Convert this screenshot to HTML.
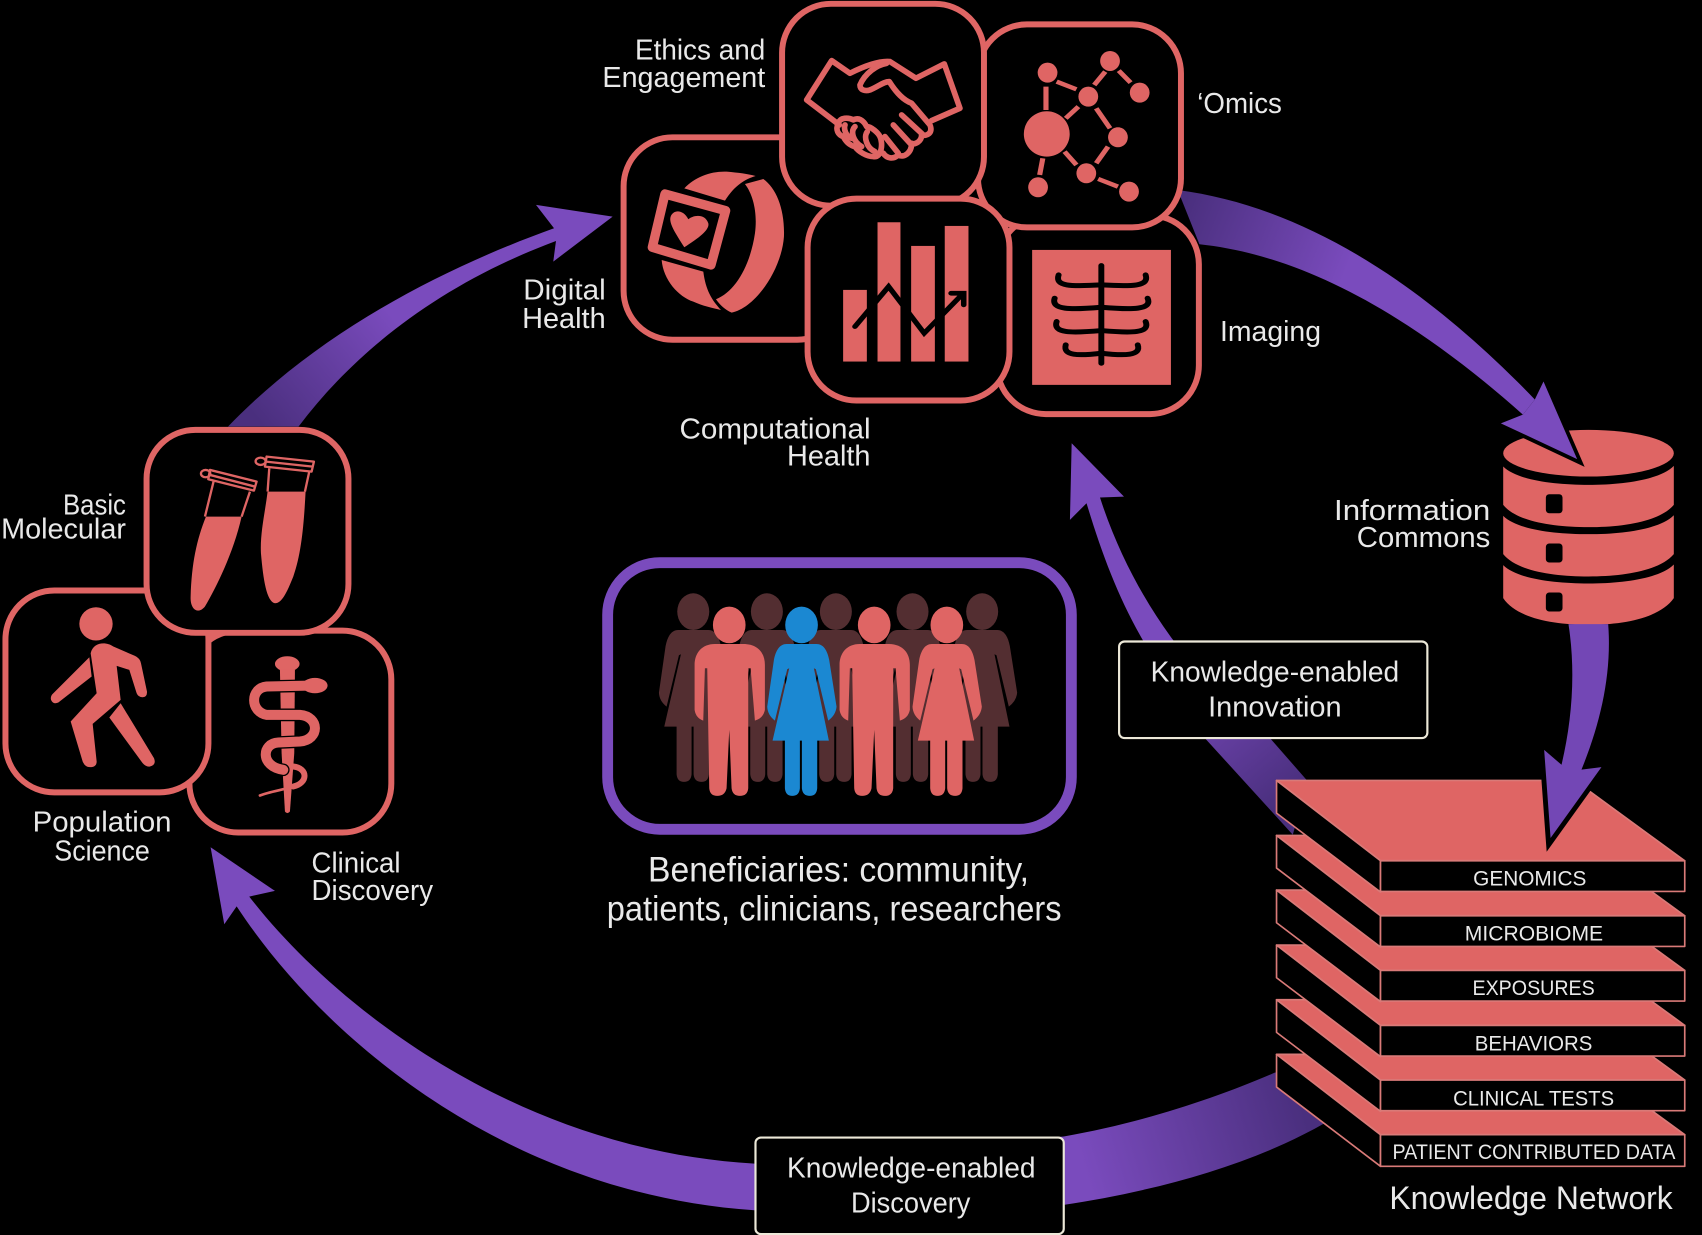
<!DOCTYPE html>
<html><head><meta charset="utf-8"><style>
html,body{margin:0;padding:0;background:#000;width:1702px;height:1235px;overflow:hidden}
svg{display:block}
text{font-family:"Liberation Sans",sans-serif;fill:#e9e9e9}
.l{font-size:26px}
.c{fill:#df6564}
.box{fill:#000;stroke:#df6564;stroke-width:5.5}
</style></head><body>
<svg xmlns="http://www.w3.org/2000/svg" width="1702" height="1235" viewBox="0 0 1568 1137.8">
<defs>
<linearGradient id="g1" gradientUnits="userSpaceOnUse" x1="1090" y1="190" x2="1240" y2="250"><stop offset="0" stop-color="#4a2f7e"/><stop offset="1" stop-color="#7a4bbd"/></linearGradient>
<linearGradient id="g3" gradientUnits="userSpaceOnUse" x1="1200" y1="1020" x2="1000" y2="1080"><stop offset="0" stop-color="#4a2f7e"/><stop offset="1" stop-color="#7a4bbd"/></linearGradient>
<linearGradient id="g4" gradientUnits="userSpaceOnUse" x1="1180" y1="740" x2="1080" y2="620"><stop offset="0" stop-color="#4a2f7e"/><stop offset="1" stop-color="#7a4bbd"/></linearGradient>
<linearGradient id="g5" gradientUnits="userSpaceOnUse" x1="240" y1="390" x2="360" y2="290"><stop offset="0" stop-color="#4a2f7e"/><stop offset="1" stop-color="#7a4bbd"/></linearGradient>
<path id="woman" d="M590 282L680 282C700 282 712 300 718 330L740 470Q738 495 715 512L678 358 672 355 717 572 682 572 682 715Q680 738 660 738 638 738 636 715L636 572 630 572 630 715Q628 738 607 738 587 738 585 715L585 572 548 572 598 355 592 358 555 512Q533 495 532 470L552 330C558 300 570 282 590 282Z"/>
<path id="man" d="M375 282L460 282C505 282 525 310 525 345L525 480Q520 505 495 512L482 355 475 355 475 715Q473 738 450 738 428 738 425 715L418 540 410 715Q405 738 382 738 360 738 358 715L352 355 345 355 340 512Q318 505 314 480L314 345C314 310 335 282 375 282Z"/>
</defs>
<rect width="1568" height="1138" fill="#000"/>

<!-- arrows behind -->
<path d="M1085 175C1200 190 1310 260 1414 368L1403 382C1300 290 1200 235 1105 225Z" fill="url(#g1)"/>
<path d="M1013.4 458.4C1030 510 1055 555 1081 590L1170 680 1205 720 1191 769 1110 680 1053 590C1030 550 1015 510 1001 463.6L985.7 479 987.3 408.4 1035.5 457.5Z" fill="url(#g4)"/>
<path d="M229.6 826C310 930 480 1060 695 1072L980 1047C1050 1035 1120 1012 1175 988L1220 1035C1150 1075 1060 1098 980 1110L695 1115C470 1100 300 960 218 835L206.6 851.5 194 780.6 253.3 820.8Z" fill="url(#g3)"/>
<path d="M210 393C290 310 400 250 510.4 210.3L493.8 188.8 564.4 199.6 509.7 241 512.2 222C410 260 330 320 275 393Z" fill="url(#g5)"/>

<!-- top cluster boxes -->
<rect class="box" x="574.5" y="126.5" width="205" height="186.5" rx="45"/>
<rect class="box" x="918.5" y="198.5" width="186" height="183" rx="45"/>
<rect class="box" x="901" y="22.5" width="187" height="187" rx="45"/>
<rect class="box" x="720.5" y="3.5" width="186" height="186" rx="45"/>
<rect class="box" x="744" y="183" width="186" height="186" rx="45"/>

<!-- handshake -->
<g transform="translate(727.8,27.6) scale(.307)" fill="none" stroke="#df6564" stroke-width="17" stroke-linejoin="round" stroke-linecap="round">
 <path d="M148 285L50 210 125 92 180 130C230 105 270 92 300 95L378 145 463 102 510 235 425 272"/>
 <path d="M290 100C260 105 225 130 210 165 210 180 225 185 240 180 265 170 280 155 298 155 320 190 340 210 365 220L420 285C430 310 410 320 395 315 395 335 375 345 365 340 365 370 340 385 325 375 310 390 290 385 280 370"/>
 <path d="M335 255L400 315M310 285L365 345M285 320L325 370"/>
 <path d="M145 280C150 262 175 262 190 270 205 262 220 270 230 290 245 290 265 310 270 320 280 340 275 385 250 380 230 380 205 365 195 350 175 345 165 330 160 320 145 315 135 300 145 280Z"/>
 <path d="M165 285C160 300 170 320 185 325M195 290C180 305 190 335 215 350M232 305C220 320 230 355 255 365"/>
</g>

<!-- watch -->
<g transform="translate(585,147.4) scale(.307)" class="c">
 <path d="M148 85C180 50 230 33 275 35 310 38 340 42 362 48 330 58 300 75 270 122Z"/>
 <path d="M330 72L385 57C425 85 450 150 447 230 440 330 360 445 290 458 270 450 255 435 243 418 300 395 345 320 360 220 368 160 355 105 330 72Z"/>
 <path d="M80 300C85 360 130 410 175 425 200 437 235 445 258 450 230 420 212 390 205 335Z"/>
 <path d="M90 102L272 152 228 315 52 262Z" fill="#000" stroke="#000" stroke-width="38" stroke-linejoin="round"/>
 <path d="M90 102L272 152 228 315 52 262Z" fill="#000" stroke="#df6564" stroke-width="28" stroke-linejoin="round"/>
 <path d="M148 262C125 225 100 190 107 170 115 148 145 148 160 178 175 165 210 160 220 190 225 210 190 235 148 262Z"/>
</g>

<g transform="translate(552.7,0) scale(.3643,.307)">
 <!-- network -->
 <g stroke="#df6564" stroke-width="13" fill="none">
 <path d="M1128 260V330M1155 245L1205 268M1250 255L1278 215M1312 212L1342 248M1210 320L1178 355M1255 325L1290 385M1285 440L1255 490M1175 455L1205 495M1120 475L1112 525M1260 537L1310 560"/>
 </g>
 <g class="c">
 <ellipse cx="1130" cy="402" rx="58" ry="68"/>
 <ellipse cx="1132" cy="218" rx="25" ry="30"/><ellipse cx="1290" cy="183" rx="25" ry="30"/>
 <ellipse cx="1365" cy="278" rx="25" ry="30"/><ellipse cx="1235" cy="290" rx="25" ry="30"/>
 <ellipse cx="1310" cy="412" rx="25" ry="30"/><ellipse cx="1230" cy="520" rx="25" ry="30"/>
 <ellipse cx="1108" cy="562" rx="25" ry="30"/><ellipse cx="1338" cy="575" rx="25" ry="30"/>
 </g>
 <!-- bars -->
 <g class="c"><rect x="615" y="870" width="60" height="215"/><rect x="702" y="667" width="58" height="418"/><rect x="787" y="738" width="60" height="347"/><rect x="872" y="678" width="60" height="407"/></g>
 <path d="M645 980L730 860 820 1000 915 885M888 880H920V915" fill="none" stroke="#000" stroke-width="14" stroke-linecap="round"/>
 <!-- xray -->
 <rect class="c" x="1093" y="750" width="351" height="405"/>
 <g fill="none" stroke="#000" stroke-width="15" stroke-linecap="round">
 <path d="M1268 797V1090"/>
 <path d="M1160 825C1150 860 1190 860 1268 855 1346 860 1390 860 1380 825"/>
 <path d="M1150 895C1140 930 1190 930 1268 922 1346 930 1398 930 1385 895"/>
 <path d="M1155 965C1145 1000 1190 1000 1268 992 1346 1000 1392 1000 1380 965"/>
 <path d="M1178 1035C1170 1068 1210 1068 1268 1060 1326 1068 1370 1068 1360 1035"/>
 </g>
</g>

<!-- left cluster -->
<rect class="box" x="174.5" y="581" width="186" height="186" rx="45"/>
<rect class="box" x="5" y="544" width="187" height="186" rx="45"/>
<rect class="box" x="135" y="396" width="186" height="187" rx="45"/>
<g transform="translate(0,386.9) scale(.307)">
 <!-- tubes -->
 <path class="c" d="M618 290L725 290C700 400 650 500 615 560 595 585 570 570 572 530 575 430 590 360 618 290Z"/>
 <path class="c" d="M803 215L917 215C912 310 905 400 880 470 860 520 845 550 825 550 800 545 790 480 783 400 780 340 795 280 803 215Z"/>
 <g fill="none" stroke="#df6564" stroke-width="7" stroke-linejoin="round">
 <path d="M642 180L615 290M750 215L725 290"/>
 <path d="M630 150L770 185 762 212 625 178ZM630 165L765 200"/>
 <ellipse cx="617" cy="161" rx="14" ry="11"/>
 <path d="M808 145L803 215M928 155L915 215"/>
 <path d="M800 110L942 125 935 155 795 140ZM798 125L938 140"/>
 <ellipse cx="782" cy="124" rx="15" ry="11"/>
 </g>
 <!-- walker -->
 <circle class="c" cx="288" cy="612" r="50"/>
 <path class="c" d="M272 700C280 665 320 665 340 680L405 708Q420 715 423 730L441 815Q442 832 428 832 415 832 410 820L388 750 350 738 362 840 278 912 290 1025Q290 1042 270 1042 255 1042 248 1025L212 905 290 820Z"/>
 <path class="c" d="M268 712L275 770 175 848Q160 855 153 840 150 828 160 820Z"/>
 <path class="c" d="M362 850L462 1015Q470 1035 450 1040 438 1042 428 1030L328 893Z"/>
 <!-- caduceus -->
 <ellipse class="c" cx="862" cy="732" rx="37" ry="23"/>
 <path class="c" d="M840 750L885 750 883 1000 870 1175Q862 1185 855 1175L845 1000Z"/>
 <g fill="none" stroke-linecap="round">
 <path d="M945 797L800 800C750 805 750 875 800 885L900 885C960 890 960 960 900 965L835 968C785 970 780 1040 850 1050" stroke="#000" stroke-width="38"/>
 <path d="M945 797L800 800C750 805 750 875 800 885L900 885C960 890 960 960 900 965L835 968C785 970 780 1040 850 1050" stroke="#df6564" stroke-width="30"/>
 <path d="M880 1040C925 1045 925 1090 880 1100" stroke="#df6564" stroke-width="18"/>
 <path d="M880 1100C850 1110 810 1115 780 1127" stroke="#df6564" stroke-width="8"/>
 </g>
 <ellipse class="c" cx="945" cy="797" rx="38" ry="23"/>
</g>

<!-- people -->
<rect x="559.8" y="518.4" width="427.2" height="245.6" rx="48" fill="#000" stroke="#7a4bbd" stroke-width="10"/>
<g transform="translate(543.5,506.7) scale(.307)">
 <g fill="#532e31">
 <g transform="translate(-325,-42)"><use href="#woman"/><ellipse cx="635" cy="227" rx="48" ry="55"/></g>
 <g transform="translate(-104,-42)"><use href="#woman"/><ellipse cx="635" cy="227" rx="48" ry="55"/></g>
 <g transform="translate(103,-42)"><use href="#woman"/><ellipse cx="635" cy="227" rx="48" ry="55"/></g>
 <g transform="translate(333,-42)"><use href="#woman"/><ellipse cx="635" cy="227" rx="48" ry="55"/></g>
 <g transform="translate(542,-42)"><use href="#woman"/><ellipse cx="635" cy="227" rx="48" ry="55"/></g>
 </g>
 <g class="c"><use href="#man"/><ellipse cx="418" cy="225" rx="49" ry="55"/></g>
 <g fill="#1b88d2"><use href="#woman"/><ellipse cx="635" cy="225" rx="49" ry="55"/></g>
 <g class="c" transform="translate(435,0)"><use href="#man"/><ellipse cx="418" cy="225" rx="49" ry="55"/></g>
 <g class="c" transform="translate(436,0)"><use href="#woman"/><ellipse cx="635" cy="225" rx="49" ry="55"/></g>
</g>

<!-- database -->
<g transform="translate(1197.6,350) scale(.307)" class="c">
 <ellipse cx="866" cy="220" rx="256" ry="70"/>
 <path d="M610 260C650 300 760 315 866 315 970 315 1080 300 1122 258L1122 375C1080 425 970 442 866 442 760 442 650 425 610 375Z"/>
 <path d="M610 408C650 448 760 463 866 463 970 463 1080 448 1122 406L1122 523C1080 573 970 590 866 590 760 590 650 573 610 523Z"/>
 <path d="M610 556C650 596 760 611 866 611 970 611 1080 596 1122 554L1122 655C1080 715 970 735 866 735 760 735 650 715 610 655Z"/>
 <g fill="#000"><rect x="738" y="343" width="50" height="57" rx="10"/><rect x="738" y="491" width="50" height="57" rx="10"/><rect x="738" y="638" width="50" height="57" rx="10"/></g>
</g>

<!-- stack -->
<g transform="translate(1160.7,700) scale(.307)" stroke="#d97a78" stroke-width="5" stroke-linejoin="round">
 <g transform="translate(0,822)"><path class="c" d="M50 62H945L1275 303H362Z"/><path fill="#000" d="M50 62L362 303V398L50 160Z"/><rect fill="#000" x="362" y="303" width="913" height="95"/></g>
 <g transform="translate(0,658)"><path class="c" d="M50 62H945L1275 303H362Z"/><path fill="#000" d="M50 62L362 303V397L50 160Z"/><rect fill="#000" x="362" y="303" width="913" height="92"/></g>
 <g transform="translate(0,494)"><path class="c" d="M50 62H945L1275 303H362Z"/><path fill="#000" d="M50 62L362 303V397L50 160Z"/><rect fill="#000" x="362" y="303" width="913" height="92"/></g>
 <g transform="translate(0,329)"><path class="c" d="M50 62H945L1275 303H362Z"/><path fill="#000" d="M50 62L362 303V397L50 160Z"/><rect fill="#000" x="362" y="303" width="913" height="92"/></g>
 <g transform="translate(0,165)"><path class="c" d="M50 62H945L1275 303H362Z"/><path fill="#000" d="M50 62L362 303V397L50 160Z"/><rect fill="#000" x="362" y="303" width="913" height="92"/></g>
 <g><path class="c" d="M50 62H945L1275 303H362Z"/><path fill="#000" d="M50 62L362 303V397L50 160Z"/><rect fill="#000" x="362" y="303" width="913" height="92"/></g>
 <g stroke="none">
 <text x="640" y="377" font-size="64" textLength="340" lengthAdjust="spacingAndGlyphs">GENOMICS</text>
 <text x="615" y="542" font-size="64" textLength="415" lengthAdjust="spacingAndGlyphs">MICROBIOME</text>
 <text x="638" y="706" font-size="64" textLength="367" lengthAdjust="spacingAndGlyphs">EXPOSURES</text>
 <text x="645" y="872" font-size="64" textLength="353" lengthAdjust="spacingAndGlyphs">BEHAVIORS</text>
 <text x="580" y="1037" font-size="64" textLength="483" lengthAdjust="spacingAndGlyphs">CLINICAL TESTS</text>
 <text x="398" y="1198" font-size="64" textLength="849" lengthAdjust="spacingAndGlyphs">PATIENT CONTRIBUTED DATA</text>
 </g>
</g>

<!-- arrow heads on top -->
<path d="M1382.7 390L1453 423 1422 351.5" fill="none" stroke="#000" stroke-width="7" stroke-linejoin="miter"/>
<path d="M1414 368L1422 351.5 1453 423 1382.7 390 1403 382Z" fill="#7a4bbd"/>
<path d="M1422.6 690.8L1428.5 772 1475.4 706.7" fill="none" stroke="#000" stroke-width="9" stroke-linejoin="miter"/>
<path d="M1445 575C1452 620 1448 665 1438.6 704.6L1422.6 690.8 1428.5 772 1475.4 706.7 1457 709C1475 665 1485 620 1481.6 575Z" fill="#7347b5"/>

<!-- labelled boxes -->
<rect x="1031" y="591" width="284" height="89" rx="5" fill="#000" stroke="#ece8d8" stroke-width="2"/>
<rect x="696" y="1048" width="284" height="89" rx="5" fill="#000" stroke="#ece8d8" stroke-width="2"/>

<!-- labels -->
<g class="l">
<text x="585" y="55" textLength="120" lengthAdjust="spacingAndGlyphs">Ethics and</text>
<text x="555" y="80" textLength="150" lengthAdjust="spacingAndGlyphs">Engagement</text>
<text x="1103" y="104" textLength="78" lengthAdjust="spacingAndGlyphs">‘Omics</text>
<text x="482" y="276" textLength="76" lengthAdjust="spacingAndGlyphs">Digital</text>
<text x="481" y="302" textLength="77" lengthAdjust="spacingAndGlyphs">Health</text>
<text x="1124" y="314" textLength="93" lengthAdjust="spacingAndGlyphs">Imaging</text>
<text x="626" y="404" textLength="176" lengthAdjust="spacingAndGlyphs">Computational</text>
<text x="725" y="429" textLength="77" lengthAdjust="spacingAndGlyphs">Health</text>
<text x="1229" y="479" textLength="144" lengthAdjust="spacingAndGlyphs">Information</text>
<text x="1250" y="504" textLength="123" lengthAdjust="spacingAndGlyphs">Commons</text>
<text x="58" y="474" textLength="58" lengthAdjust="spacingAndGlyphs">Basic</text>
<text x="1" y="496" textLength="115" lengthAdjust="spacingAndGlyphs">Molecular</text>
<text x="30" y="766" textLength="128" lengthAdjust="spacingAndGlyphs">Population</text>
<text x="50" y="793" textLength="88" lengthAdjust="spacingAndGlyphs">Science</text>
<text x="287" y="804" textLength="82" lengthAdjust="spacingAndGlyphs">Clinical</text>
<text x="287" y="829" textLength="112" lengthAdjust="spacingAndGlyphs">Discovery</text>
<text x="1060" y="628" textLength="229" lengthAdjust="spacingAndGlyphs">Knowledge-enabled</text>
<text x="1113" y="660" textLength="123" lengthAdjust="spacingAndGlyphs">Innovation</text>
<text x="725" y="1085" textLength="229" lengthAdjust="spacingAndGlyphs">Knowledge-enabled</text>
<text x="784" y="1117" textLength="110" lengthAdjust="spacingAndGlyphs">Discovery</text>
</g>
<text x="597" y="812" font-size="32" textLength="351" lengthAdjust="spacingAndGlyphs">Beneficiaries: community,</text>
<text x="559" y="848" font-size="32" textLength="419" lengthAdjust="spacingAndGlyphs">patients, clinicians, researchers</text>
<text x="1280" y="1114" font-size="30" textLength="261" lengthAdjust="spacingAndGlyphs">Knowledge Network</text>
</svg>
</body></html>
